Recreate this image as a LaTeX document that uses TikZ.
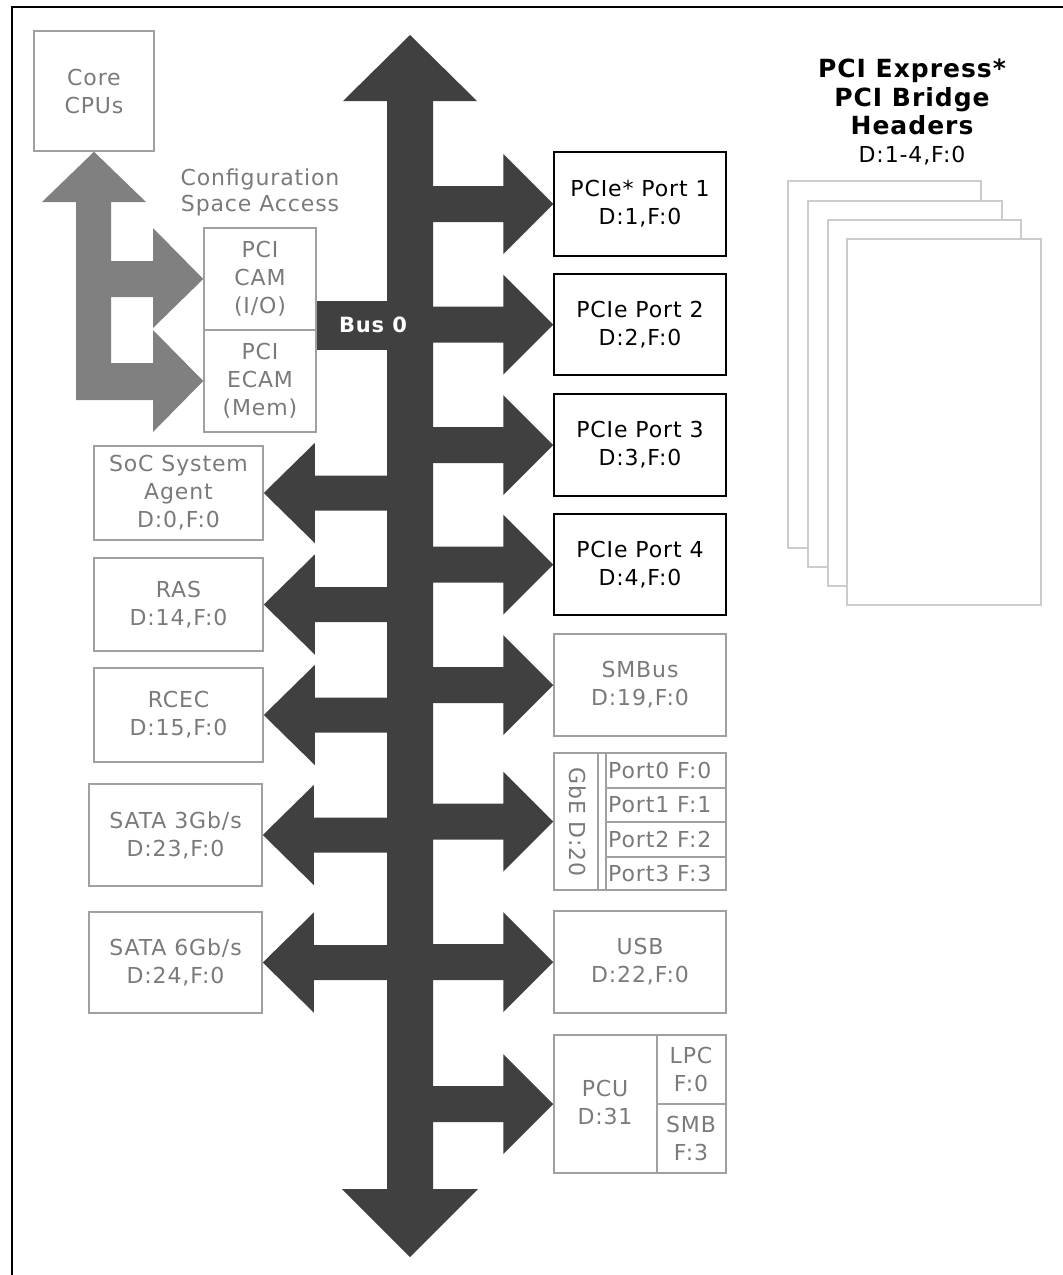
\documentclass[tikz,border=0pt]{standalone}
\usepackage{fontspec}
\setmainfont{DejaVu Sans}[LetterSpace=4]
\usetikzlibrary{calc}
\definecolor{busc}{HTML}{404040}
\definecolor{cfgc}{HTML}{808080}
\definecolor{gtxt}{HTML}{7A7A7A}
\definecolor{gline}{HTML}{A0A0A0}
\definecolor{hline}{HTML}{CCCCCC}
\tikzset{
  txt/.style={font=\fontsize{22}{28}\selectfont, align=center, inner sep=0pt},
  box/.style={txt, draw, line width=1.5pt},
  graybox/.style={box, draw=gline, text=gtxt},
  blackbox/.style={box, draw=black, text=black},
  rbox/.style={minimum width=172pt, minimum height=#1},
  lbox/.style={minimum width=169pt, minimum height=#1},
  hdr/.style={draw=hline, line width=1.5pt, fill=white},
  gsep/.style={draw=gline, line width=1.5pt},
}
\newcommand\BusRight[1]{\fill[busc] ($(#1.west)+(-134,-18)$) -- ($(#1.west)+(-50,-18)$) -- ($(#1.west)+(-50,-50)$) -- (#1.west) -- ($(#1.west)+(-50,50)$) -- ($(#1.west)+(-50,18)$) -- ($(#1.west)+(-134,18)$) -- cycle;}
\newcommand\BusLeft[1]{\fill[busc] ($(#1.east)+(137,-17.5)$) -- ($(#1.east)+(51,-17.5)$) -- ($(#1.east)+(51,-50)$) -- (#1.east) -- ($(#1.east)+(51,50)$) -- ($(#1.east)+(51,17.5)$) -- ($(#1.east)+(137,17.5)$) -- cycle;}
\begin{document}
\begin{tikzpicture}[x=1pt,y=-1pt]
\useasboundingbox (0,0) rectangle (1063,1275);
% outer frame (only top and left visible)
\draw[line width=2pt] (12,1280) -- (12,7) -- (1070,7);

% vertical bus
\fill[busc] (410,35) -- (477,101) -- (433,101) -- (433,1189) -- (478,1189) -- (410,1257) -- (342,1189) -- (387,1189) -- (387,101) -- (343,101) -- cycle;

% left column
\node[graybox, minimum width=120pt, minimum height=120pt] (cpu) at (94,91) {Core\\CPUs};
\node[txt, text=gtxt, font=\fontsize{22}{26}\selectfont] (cfg) at (260,192) {Configuration\\Space Access};
\node[graybox, minimum width=112pt, minimum height=102pt] (cam) at (260,279) {PCI\\CAM\\(I/O)};
\node[graybox, minimum width=112pt, minimum height=102pt] (ecam) at (260,381) {PCI\\ECAM\\(Mem)};

\node[graybox, lbox=94pt] (soc) at (178.5,493) {SoC System\\Agent\\D:0,F:0};
\node[graybox, lbox=93pt] (ras) at (178.5,604.5) {RAS\\D:14,F:0};
\node[graybox, lbox=94pt] (rcec) at (178.5,715) {RCEC\\D:15,F:0};
\node[graybox, minimum width=173pt, minimum height=102pt] (sata3) at (175.5,835) {SATA 3Gb/s\\D:23,F:0};
\node[graybox, minimum width=173pt, minimum height=101pt] (sata6) at (175.5,962.5) {SATA 6Gb/s\\D:24,F:0};

% right column
\node[blackbox, rbox=104pt] (p1) at (640,204) {PCIe* Port 1\\D:1,F:0};
\node[blackbox, rbox=101pt] (p2) at (640,324.5) {PCIe Port 2\\D:2,F:0};
\node[blackbox, rbox=102pt] (p3) at (640,445) {PCIe Port 3\\D:3,F:0};
\node[blackbox, rbox=101pt] (p4) at (640,564.5) {PCIe Port 4\\D:4,F:0};
\node[graybox, rbox=102pt] (smb) at (640,685) {SMBus\\D:19,F:0};
\node[graybox, rbox=137pt] (gbe) at (640,821.5) {};
\node[graybox, rbox=102pt] (usb) at (640,962) {USB\\D:22,F:0};
\node[graybox, rbox=138pt] (pcu) at (640,1104) {};

% GbE internals
\draw[gsep] (598,753) -- (598,890);
\draw[gsep] (606,753) -- (606,890);
\draw[gsep] (606,788) -- (726,788);
\draw[gsep] (606,822) -- (726,822);
\draw[gsep] (606,857) -- (726,857);
\node[txt, text=gtxt, rotate=-90] (gbet) at (578,822) {GbE D:20};
\node[txt, text=gtxt, anchor=west] (g0) at (608,770.5) {Port0 F:0};
\node[txt, text=gtxt, anchor=west] (g1) at (608,805) {Port1 F:1};
\node[txt, text=gtxt, anchor=west] (g2) at (608,839.5) {Port2 F:2};
\node[txt, text=gtxt, anchor=west] (g3) at (608,873.5) {Port3 F:3};

% PCU internals
\draw[gsep] (657,1035) -- (657,1173);
\draw[gsep] (657,1104) -- (726,1104);
\node[txt, text=gtxt] (pcut) at (605,1102) {PCU\\D:31};
\node[txt, text=gtxt] (lpc) at (691,1069) {LPC\\F:0};
\node[txt, text=gtxt] (smbf) at (691,1138) {SMB\\F:3};

% header stack
\draw[hdr] (788,181) rectangle (981,548);
\draw[hdr] (808,201) rectangle (1002,567);
\draw[hdr] (828,220) rectangle (1021,586);
\draw[hdr] (847,239) rectangle (1041,605);
\node[txt, font=\fontsize{25}{28.5}\selectfont\bfseries, text=black] (title) at (912,97) {PCI Express*\\PCI Bridge\\Headers};
\node[txt, text=black] (dsub) at (912,156) {D:1-4,F:0};

% config access arrow
\fill[cfgc] (cpu.south) -- (146,202) -- (111,202) -- (111,261) -- (153,261) -- (153,228) -- (cam.west) -- (153,328) -- (153,297) -- (111,297) -- (111,363) -- (153,363) -- (153,330) -- (ecam.west) -- (153,432) -- (153,400) -- (76,400) -- (76,202) -- (42,202) -- cycle;

% bus 0 branch
\fill[busc] (cam.east |- 0,301) rectangle (400,350);
\node[txt, font=\fontsize{21}{24}\selectfont\bfseries, text=white] (bus0) at (373,325) {Bus 0};

% bus arrows
\BusRight{p1}
\BusRight{p2}
\BusRight{p3}
\BusRight{p4}
\BusRight{smb}
\BusRight{gbe}
\BusRight{usb}
\BusRight{pcu}
\BusLeft{soc}
\BusLeft{ras}
\BusLeft{rcec}
\BusLeft{sata3}
\BusLeft{sata6}
\end{tikzpicture}
\end{document}
